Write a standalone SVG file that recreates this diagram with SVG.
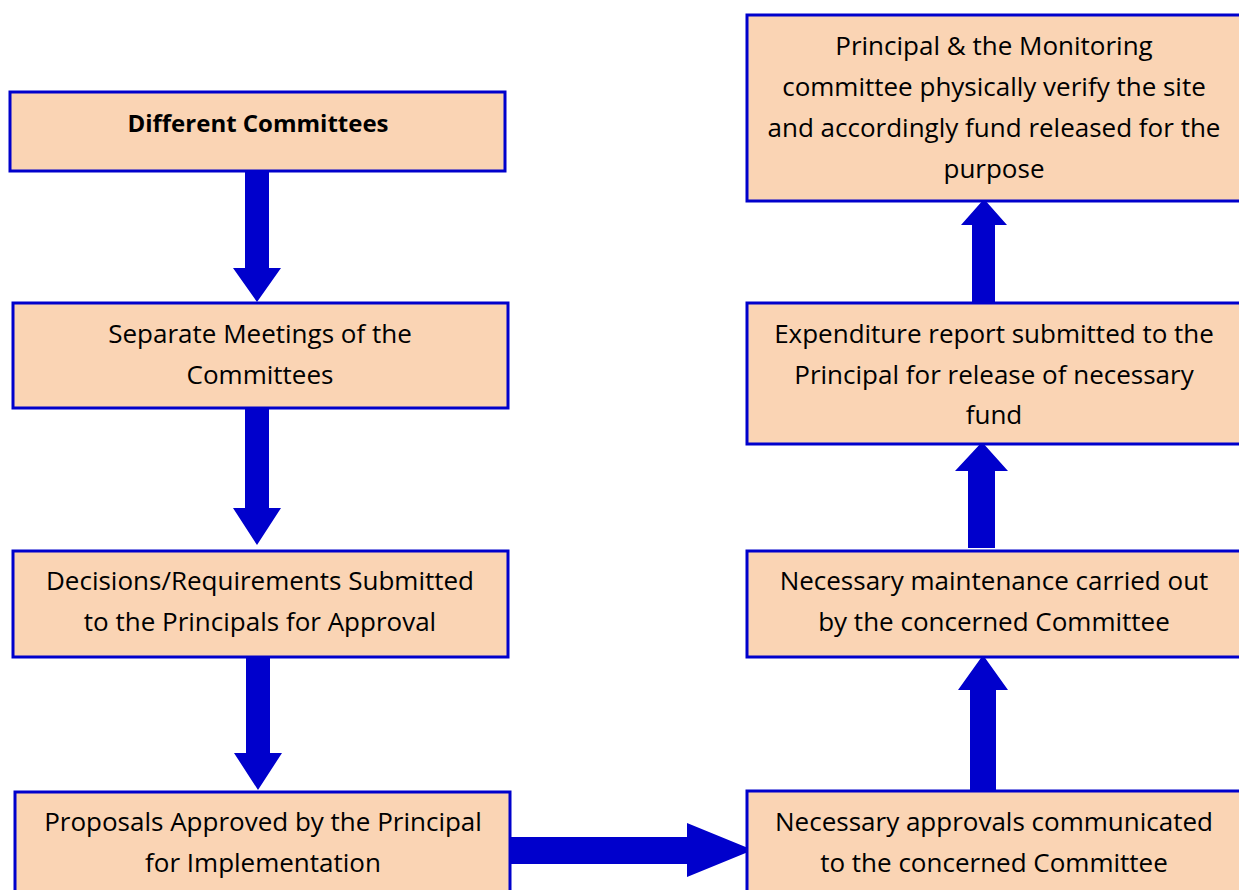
<svg xmlns="http://www.w3.org/2000/svg" width="1239" height="890" viewBox="0 0 1239 890">
<style>
.box{fill:#FAD4B4;stroke:#0000CC;stroke-width:3}
.arr{fill:#0000CC}
text{font-family:"Open Sans",Lato,sans-serif;font-size:26px;fill:#000;text-anchor:middle}
.b{font-weight:bold;font-size:24px}
</style>
<rect width="1239" height="890" fill="#fff"/>
<g id="connectors">
<polygon class="arr" points="245,172 269,172 269,268 281,268 257,302 233,268 245,268"/>
<polygon class="arr" points="245,408 269,408 269,508 281,508 257,545 233,508 245,508"/>
<polygon class="arr" points="246,657 270,657 270,753 282,753 258,790 234,753 246,753"/>
<polygon class="arr" points="510,837 687,837 687,823 753,850 687,877 687,864 510,864"/>
<polygon class="arr" points="972,303 995,303 995,225 1007,225 984,199 961,225 972,225"/>
<polygon class="arr" points="968,548 995,548 995,471 1008,471 982,442 955,471 968,471"/>
<polygon class="arr" points="970,790 996,790 996,690 1008,690 983,655 958,690 970,690"/>
</g>
<g id="n1"><rect class="box" x="10" y="92" width="495" height="79"/><text class="b" x="258" y="132">Different Committees</text></g>
<g id="n2"><rect class="box" x="13" y="303" width="495" height="105"/><text x="260" y="343">Separate Meetings of the</text><text x="260" y="384">Committees</text></g>
<g id="n3"><rect class="box" x="13" y="551" width="495" height="106"/><text x="260" y="590">Decisions/Requirements Submitted</text><text x="260" y="631">to the Principals for Approval</text></g>
<g id="n4"><rect class="box" x="15" y="792" width="495" height="110"/><text x="263" y="831">Proposals Approved by the Principal</text><text x="263" y="872">for Implementation</text></g>
<g id="n5"><rect class="box" x="747" y="791" width="500" height="110"/><text x="994" y="831">Necessary approvals communicated</text><text x="994" y="872">to the concerned Committee</text></g>
<g id="n6"><rect class="box" x="747" y="551" width="500" height="106"/><text x="994" y="590">Necessary maintenance carried out</text><text x="994" y="631">by the concerned Committee</text></g>
<g id="n7"><rect class="box" x="747" y="303" width="500" height="141"/><text x="994" y="343">Expenditure report submitted to the</text><text x="994" y="384">Principal for release of necessary</text><text x="994" y="424">fund</text></g>
<g id="n8"><rect class="box" x="747" y="15" width="500" height="186"/><text x="994" y="55">Principal &amp; the Monitoring</text><text x="994" y="96">committee physically verify the site</text><text x="994" y="137">and accordingly fund released for the</text><text x="994" y="178">purpose</text></g>
</svg>
